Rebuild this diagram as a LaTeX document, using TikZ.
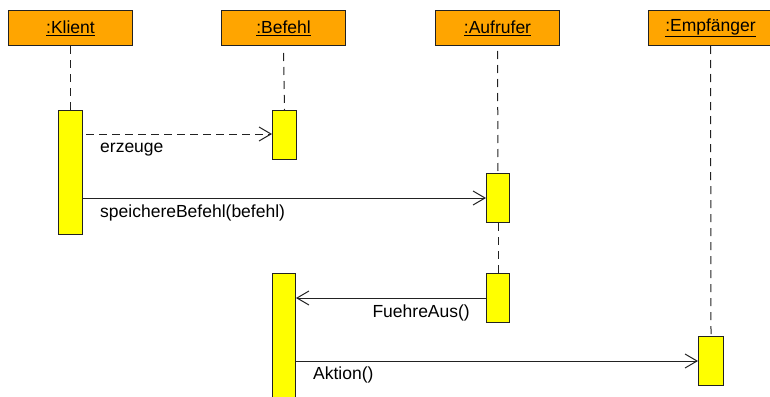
\documentclass[tikz,border=0pt]{standalone}
\usepackage{fontspec}
\setmainfont{Liberation Sans}
\usetikzlibrary{arrows.meta}
\definecolor{hdr}{HTML}{FFA500}
\definecolor{act}{HTML}{FFFF00}
\definecolor{ln}{HTML}{222222}
\begin{document}
\begin{tikzpicture}[x=1pt,y=-1pt,
  font=\fontsize{17.5}{20}\selectfont,
  header/.style={draw=ln,fill=hdr,line width=1pt,minimum width=124pt,minimum height=35pt,inner sep=0pt,anchor=north west},
  actbox/.style={draw=ln,fill=act,line width=1pt,minimum width=24pt,inner sep=0pt,anchor=north west},
  life/.style={draw=ln,line width=1pt,dash pattern=on 8pt off 6pt},
  msg/.style={draw=ln,line width=1pt,-{Straight Barb[length=12pt,width=14pt,line width=1pt]}},
  lbl/.style={inner sep=0pt}]
\useasboundingbox (0,0) rectangle (770,396);
\clip (0,0) rectangle (770,396);
% headers
\node[header] (hK) at (8,10) {\underline{:Klient}};
\node[header] (hB) at (221,10) {\underline{:Befehl}};
\node[header] (hA) at (435,10) {\underline{:Aufrufer}};
\node[header] (hE) at (648,10) {\underline{:Empfänger}};
% activations
\node[actbox,minimum height=124pt] (kA) at (58,110) {};
\node[actbox,minimum height=49pt] (bA1) at (272,110) {};
\node[actbox,minimum width=23pt,minimum height=49pt] (aA1) at (486,173) {};
\node[actbox,minimum width=23pt,minimum height=49pt] (aA2) at (486,273) {};
\node[actbox,minimum width=23pt,minimum height=130pt] (bA2) at (272,273) {};
\node[actbox,minimum width=25pt,minimum height=49pt] (eA) at (698,336) {};
% lifelines
\draw[life] (hK.south) -- (kA.north);
\draw[life] ([yshift=-7pt]hB.south) -- (bA1.north);
\draw[life] ([yshift=-5pt]hA.south) -- (aA1.north);
\draw[life] (aA1.south) -- (aA2.north);
\draw[life] (hE.south) -- (eA.north);
% messages
\draw[msg,dash pattern=on 8pt off 5pt] ([xshift=3pt]kA.east |- 0,134) -- (bA1.west |- 0,134);
\node[lbl,anchor=west] (l1) at (100,150) {erzeuge};
\draw[msg] (kA.east |- 0,198) -- (aA1.west |- 0,198);
\node[lbl,anchor=west] (l2) at (100,213) {speichereBefehl(befehl)};
\draw[msg] (aA2.west |- 0,298) -- (bA2.east |- 0,298);
\node[lbl,anchor=east] (l3) at (470,313) {FuehreAus()};
\draw[msg] (bA2.east |- 0,361) -- (eA.west |- 0,361);
\node[lbl,anchor=west] (l4) at (313,375) {Aktion()};
\end{tikzpicture}
\end{document}
